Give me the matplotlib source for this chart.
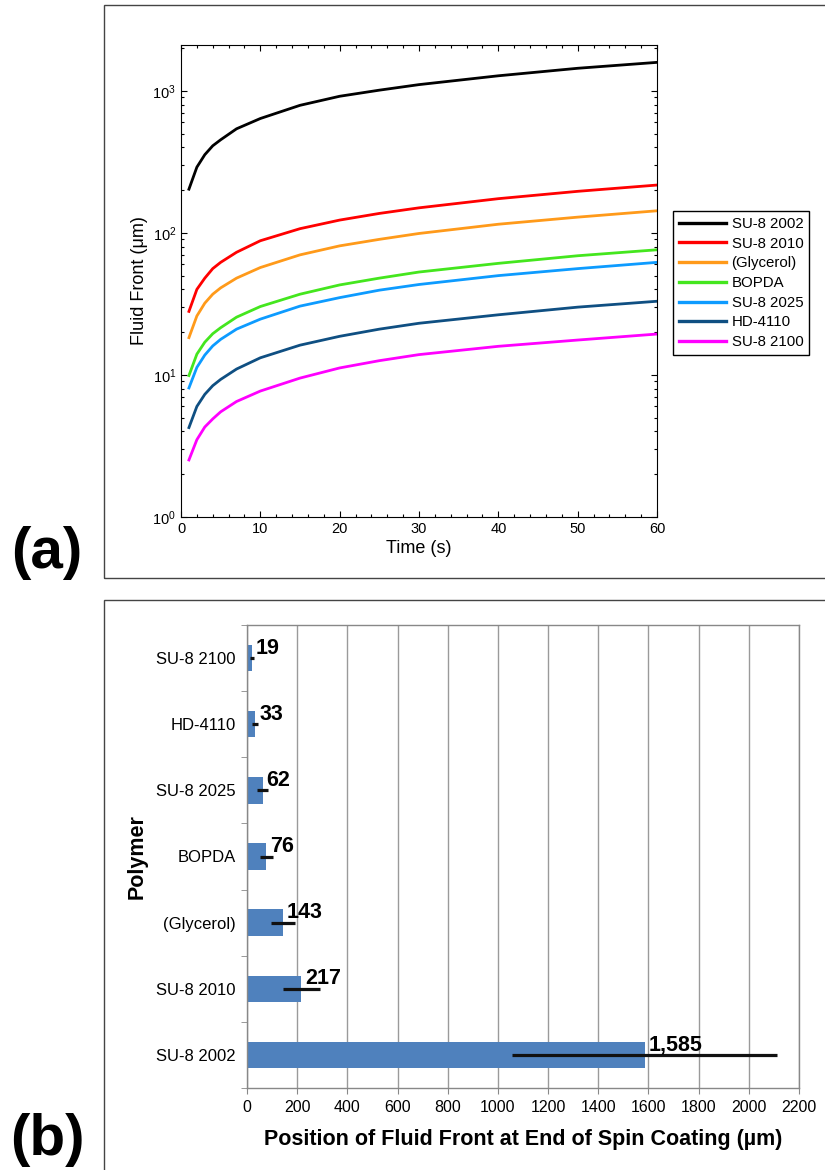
import matplotlib
matplotlib.use("Agg")
import matplotlib.pyplot as plt
from matplotlib.patches import Rectangle
from matplotlib.ticker import MultipleLocator, FixedLocator

plt.rcParams['font.family'] = ['Liberation Sans', 'DejaVu Sans']

# (a) fluid front vs time
time_s = [1, 2, 3, 4, 5, 7, 10, 15, 20, 25, 30, 40, 50, 60]
su8_2002 = [203, 290, 355, 410, 452, 540, 638, 790, 915, 1010, 1105, 1275, 1440, 1585]
su8_2010 = [28, 40, 48, 56, 62, 73, 88, 107, 123, 137, 150, 174, 196, 217]
glycerol = [18.3, 26, 32, 37, 41, 48, 57, 70, 81, 90, 99, 115, 129, 143]
bopda = [9.9, 14, 17, 19.5, 21.5, 25.5, 30.3, 37, 43, 48, 53, 61, 69, 76]
su8_2025 = [8.1, 11.3, 13.8, 16, 17.8, 21, 24.7, 30.5, 35, 39.5, 43.3, 50, 56, 62]
hd_4110 = [4.26, 6, 7.3, 8.4, 9.3, 11, 13.2, 16.2, 18.7, 21, 23.1, 26.5, 30, 33]
su8_2100 = [2.52, 3.5, 4.3, 4.9, 5.5, 6.5, 7.7, 9.5, 11.2, 12.6, 13.9, 15.9, 17.6, 19.4]

curve_names = ['SU-8 2002', 'SU-8 2010', '(Glycerol)', 'BOPDA', 'SU-8 2025', 'HD-4110', 'SU-8 2100']
curve_data = [su8_2002, su8_2010, glycerol, bopda, su8_2025, hd_4110, su8_2100]
curve_colors = ['#000000', '#ff0000', '#ff9a1a', '#44e61e', '#0d9bff', '#0f4f82', '#ff00ff']

# (b) final fluid front position with error
polymers = ['SU-8 2002', 'SU-8 2010', '(Glycerol)', 'BOPDA', 'SU-8 2025', 'HD-4110', 'SU-8 2100']
final_pos = [1585, 217, 143, 76, 62, 33, 19]
final_err = [528, 72, 48, 26, 21, 12, 7]

W, H = 825, 1170
fig = plt.figure(figsize=(W / 100, H / 100), dpi=100)

# panel frames
fig.patches.append(Rectangle((104 / W, 1 - 578 / H), 1.0, (578 - 5) / H,
                             transform=fig.transFigure, fill=False,
                             edgecolor='#444444', lw=1.0))
fig.patches.append(Rectangle((104 / W, -0.05), 1.0, 0.05 + 1 - 600 / H,
                             transform=fig.transFigure, fill=False,
                             edgecolor='#444444', lw=1.0))

# ---- (a)
ax1 = fig.add_axes([181 / W, 1 - 517 / H, (657 - 181) / W, (517 - 45) / H])
for name, vals, col in zip(curve_names, curve_data, curve_colors):
    ax1.plot(time_s, vals, color=col, lw=2.0, label=name)
ax1.set_yscale('log')
ax1.set_xlim(0, 60)
ax1.set_ylim(1, 2100)
ax1.xaxis.set_major_locator(MultipleLocator(10))
ax1.xaxis.set_minor_locator(MultipleLocator(2))
ax1.tick_params(which='both', direction='in', top=True, right=True,
                labelsize=10.5, width=0.8)
ax1.tick_params(which='major', length=4)
ax1.tick_params(which='minor', length=2.5)
ax1.set_xlabel('Time (s)', fontsize=13, labelpad=3)
ax1.set_ylabel('Fluid Front (\u03bcm)', fontsize=13, labelpad=3)

leg = fig.legend(loc='upper left', bbox_to_anchor=(673 / W, 1 - 211 / H),
                 fontsize=10.8, frameon=True, fancybox=False, framealpha=1,
                 edgecolor='black', handlelength=3.1, handletextpad=0.4,
                 labelspacing=0.38, borderpad=0.4, borderaxespad=0)
leg.get_frame().set_linewidth(1.0)
for h in leg.get_lines():
    h.set_linewidth(2.4)

fig.text(47 / W, 1 - 553 / H, '(a)', fontsize=42, fontweight='bold',
         ha='center', va='center')

# ---- (b)
ax2 = fig.add_axes([247 / W, 1 - 1088 / H, (799 - 247) / W, (1088 - 625) / H])
ypos = list(range(len(polymers)))
ax2.barh(ypos, final_pos, height=0.4, color='#4f81bd', zorder=2)
ax2.errorbar(final_pos, ypos, xerr=final_err, fmt='none', ecolor='#111111',
             elinewidth=2.3, capsize=0, zorder=3)
for v, y in zip(final_pos, ypos):
    ax2.annotate(f'{v:,}', xy=(v, y + 0.15), xytext=(3, 0),
                 textcoords='offset points', ha='left', va='center',
                 fontsize=15.5, fontweight='bold')
ax2.set_xlim(0, 2200)
ax2.set_ylim(-0.5, len(polymers) - 0.5)
ax2.xaxis.set_major_locator(MultipleLocator(200))
ax2.set_yticks(ypos)
ax2.set_yticklabels(polymers)
ax2.yaxis.set_minor_locator(FixedLocator([i - 0.5 for i in range(len(polymers) + 1)]))
ax2.tick_params(axis='y', which='major', length=0, pad=8, labelsize=12)
ax2.tick_params(axis='y', which='minor', length=4, color='#888888')
ax2.tick_params(axis='x', which='major', length=4, color='#888888', labelsize=11.5, pad=5)
ax2.grid(axis='x', color='#9a9a9a', lw=1.0, zorder=0)
ax2.set_axisbelow(True)
for s in ax2.spines.values():
    s.set_color('#888888')
    s.set_linewidth(1.0)
ax2.set_xlabel('Position of Fluid Front at End of Spin Coating (\u00b5m)',
               fontsize=15.5, fontweight='bold', labelpad=10)
ax2.set_ylabel('Polymer', fontsize=15.5, fontweight='bold', labelpad=6)

fig.text(47 / W, 1 - 1140 / H, '(b)', fontsize=42, fontweight='bold',
         ha='center', va='center')

fig.savefig('out.png', dpi=100)
